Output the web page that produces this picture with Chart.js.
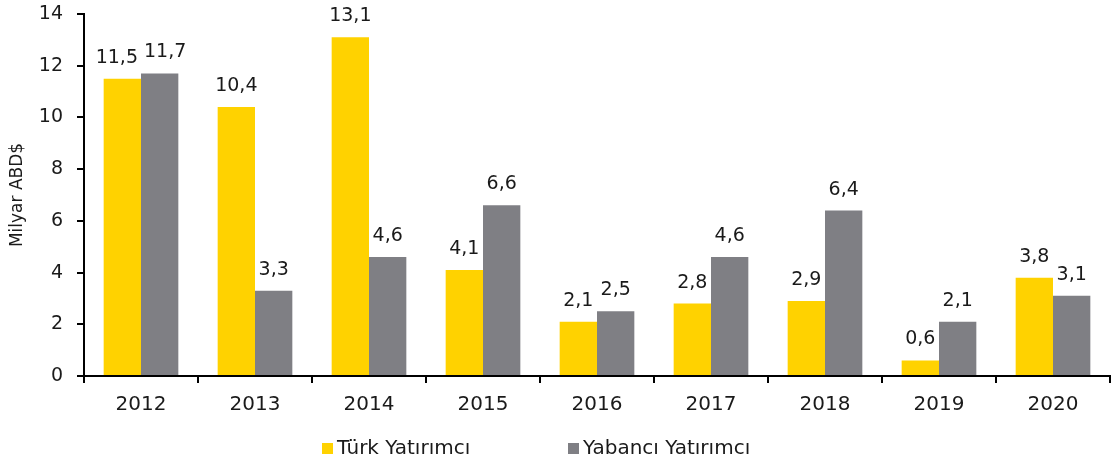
<!DOCTYPE html>
<html>
<head>
<meta charset="utf-8">
<script src="https://cdn.jsdelivr.net/npm/chart.js@4.4.1/dist/chart.umd.min.js"></script>
<style>
html,body{margin:0;padding:0;background:#fff;}
#wrap{width:1115px;height:466px;position:relative;}
</style>
</head>
<body>
<div id="wrap"><canvas id="c" width="1115" height="466"></canvas></div>
<script>
const categories = ["2012","2013","2014","2015","2016","2017","2018","2019","2020"];
const turkValues = [11.5, 10.4, 13.1, 4.1, 2.1, 2.8, 2.9, 0.6, 3.8];
const yabanciValues = [11.7, 3.3, 4.6, 6.6, 2.5, 4.6, 6.4, 2.1, 3.1];
const seriesNames = ["Türk Yatırımcı", "Yabancı Yatırımcı"];
const yTicks = [0, 2, 4, 6, 8, 10, 12, 14];
const yTitle = "Milyar ABD$";

const FONT = "'DejaVu Sans', sans-serif";
const YELLOW = "#FFD200";
const GREY = "#7F7F84";
const TEXT = "#1a1a1a";

const labelPlugin = {
  id: 'valueLabels',
  afterDatasetsDraw(chart) {
    const ctx = chart.ctx;
    ctx.save();
    ctx.font = "19px " + FONT;
    ctx.fillStyle = TEXT;
    ctx.textAlign = "center";
    ctx.textBaseline = "alphabetic";
    const m0 = chart.getDatasetMeta(0), m1 = chart.getDatasetMeta(1);
    const d0 = chart.data.datasets[0].data, d1 = chart.data.datasets[1].data;
    for (let i = 0; i < d0.length; i++) {
      const t0 = d0[i].toFixed(1).replace('.', ',');
      const t1 = d1[i].toFixed(1).replace('.', ',');
      const b0 = m0.data[i], b1 = m1.data[i];
      let x0 = b0.x, x1 = b1.x;
      const y0 = b0.y - 16, y1 = b1.y - 16;
      const w0 = ctx.measureText(t0).width, w1 = ctx.measureText(t1).width;
      const need = (w0 + w1) / 2 + 6;
      if (Math.abs(y0 - y1) < 20 && (x1 - x0) < need) {
        const shift = (need - (x1 - x0)) / 2;
        x0 -= shift; x1 += shift;
      }
      ctx.fillText(t0, x0, y0);
      ctx.fillText(t1, x1, y1);
    }
    ctx.restore();
  }
};

const legendPlugin = {
  id: 'customLegend',
  afterDraw(chart) {
    const ctx = chart.ctx;
    ctx.save();
    ctx.font = "20px " + FONT;
    ctx.textBaseline = "middle";
    const xs = [322, 568];
    const colors = [YELLOW, GREY];
    const y = 449;
    seriesNames.forEach((n, i) => {
      ctx.fillStyle = colors[i];
      ctx.fillRect(xs[i], y - 6, 11, 11);
      ctx.fillStyle = TEXT;
      ctx.fillText(n, xs[i] + 15, y);
    });
    ctx.restore();
  }
};

new Chart(document.getElementById('c'), {
  type: 'bar',
  data: {
    labels: categories,
    datasets: [
      { label: seriesNames[0], data: turkValues, backgroundColor: YELLOW, borderWidth: 0 },
      { label: seriesNames[1], data: yabanciValues, backgroundColor: GREY, borderWidth: 0 }
    ]
  },
  options: {
    responsive: false,
    animation: false,
    devicePixelRatio: 1,
    layout: { padding: { top: 14, right: 5, left: 0, bottom: 0 } },
    datasets: { bar: { categoryPercentage: 0.655, barPercentage: 1.0 } },
    plugins: {
      legend: { display: false },
      tooltip: { enabled: false }
    },
    scales: {
      x: {
        grid: { display: true, offset: true, drawOnChartArea: false, drawTicks: true, tickLength: 7, color: '#000', lineWidth: 2 },
        border: { display: true, color: '#000', width: 2 },
        ticks: { font: { family: FONT, size: 20 }, color: TEXT, padding: 10 },
        afterFit(s) { s.height = 90; s.paddingLeft = 0; s.paddingRight = 0; }
      },
      y: {
        min: 0, max: 14,
        afterBuildTicks(s) { s.ticks = yTicks.map(v => ({ value: v })); },
        grid: { display: true, drawOnChartArea: false, drawTicks: true, tickLength: 7, color: '#000', lineWidth: 2 },
        border: { display: true, color: '#000', width: 2 },
        ticks: { font: { family: FONT, size: 19 }, color: TEXT, padding: 14 },
        title: { display: true, text: yTitle, font: { family: FONT, size: 17 }, color: TEXT, padding: { top: 7, bottom: 0 } },
        afterFit(s) { s.width = 84; s.paddingTop = 0; s.paddingBottom = 0; }
      }
    }
  },
  plugins: [labelPlugin, legendPlugin]
});
</script>
</body>
</html>
